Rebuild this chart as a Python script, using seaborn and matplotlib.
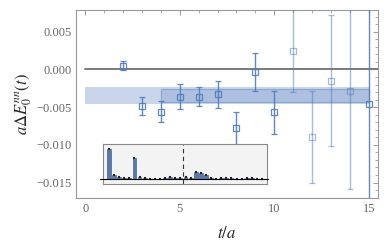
import numpy as np
import matplotlib
matplotlib.use("Agg")
import matplotlib.pyplot as plt
import seaborn as sns
from matplotlib.ticker import MultipleLocator, FuncFormatter

# main data: t/a, central value, error
t = [2, 3, 4, 5, 6, 7, 8, 9, 10, 11, 12, 13, 14, 15]
dE = [0.0005, -0.0049, -0.0056, -0.0036, -0.0036, -0.0033, -0.0078, -0.0003,
      -0.0057, 0.0025, -0.0090, -0.0015, -0.0028, -0.0046]
dE_err = [0.0006, 0.0012, 0.0014, 0.0017, 0.0013, 0.0018, 0.0022, 0.0025,
          0.0029, 0.0055, 0.0061, 0.0087, 0.0131, 0.0220]

# fit bands
band_wide = [-0.00456, -0.00234]   # t from 0 to 15
band_fit = [-0.00425, -0.00260]    # t from 4 to 15

# inset bar heights (arbitrary units)
inset_h = [90, 12, 6, 3, 3, 63, 8, 3, 1, 1, 2, 5, 6, 5, 4,
           8, 5, 21, 20, 12, 5, 1, 4, 5, 3, 2, 1, 3, 4, 2, 1]
inset_cut = 14.6

sns.set_theme(style="white")
plt.rcParams["font.family"] = ["Liberation Serif", "DejaVu Serif"]
plt.rcParams["mathtext.fontset"] = "stix"

fig = plt.figure(figsize=(3.9, 2.48), dpi=100)
ax = fig.add_axes([0.195, 0.2, 0.774, 0.76])

blue = "#4f7bbd"
ax.fill_between([0, 15], band_wide[0], band_wide[1], color="#c8d5ea", lw=0, zorder=1)
ax.fill_between([4, 15], band_fit[0], band_fit[1], color="#adc0df",
                edgecolor="#8aa5d0", lw=0.8, zorder=2)
ax.plot([0, 16], [0, 0], color="#7a7a7a", lw=1.4, zorder=3)

for ti, yi, ei in zip(t, dE, dE_err):
    a = 0.5 if 11 <= ti <= 14 else 0.9
    ax.errorbar(ti, yi, yerr=ei, fmt="s", ms=3.8, mfc="none", mec=blue, mew=0.9,
                color=blue, ecolor=blue, elinewidth=1.0, capsize=2.5,
                alpha=a, zorder=4)

ax.set_xlim(-0.48, 15.48)
ax.set_ylim(-0.0171, 0.0079)
ax.xaxis.set_major_locator(MultipleLocator(5))
ax.xaxis.set_minor_locator(MultipleLocator(1))
ax.yaxis.set_major_locator(MultipleLocator(0.005))
ax.yaxis.set_minor_locator(MultipleLocator(0.001))
ax.yaxis.set_major_formatter(FuncFormatter(lambda v, p: f"{v:.3f}".replace("-", "\u2212")))
ax.tick_params(which="both", direction="in", top=True, right=True, color="#999999",
               labelcolor="#666666", labelsize=9)
ax.tick_params(which="major", length=3.5, width=0.7, pad=3)
ax.tick_params(which="minor", length=2, width=0.6)
for s in ax.spines.values():
    s.set_color("#999999")
    s.set_linewidth(0.8)

ax.set_xlabel("$t/a$", fontsize=12, labelpad=8)
ax.set_ylabel(r"$a\Delta E_0^{nn}(t)$", fontsize=12, labelpad=2)

# inset
axi = fig.add_axes([0.265, 0.258, 0.42, 0.16])
axi.set_facecolor("#f3f3f3")
sns.barplot(x=list(range(len(inset_h))), y=inset_h, native_scale=True,
            color="#4a78b8", edgecolor="#2f4f80", linewidth=0.4, width=0.75,
            errorbar=None, ax=axi)
axi.scatter(range(len(inset_h)), inset_h, s=4, color="#222222", marker="_", lw=1.5, zorder=5)
axi.plot([-1.8, 31.2], [0, 0], color="black", lw=0.8, clip_on=False, zorder=6)
axi.axvline(inset_cut, color="#333333", lw=0.8, ls=(0, (4, 3)))
axi.set_xlim(-1.1, 31.0)
axi.set_ylim(-14, 105)
axi.set_xticks([])
axi.set_yticks([])
axi.set_xlabel("")
for s in axi.spines.values():
    s.set_color("#888888")
    s.set_linewidth(0.8)

fig.savefig("out.png", dpi=100)
